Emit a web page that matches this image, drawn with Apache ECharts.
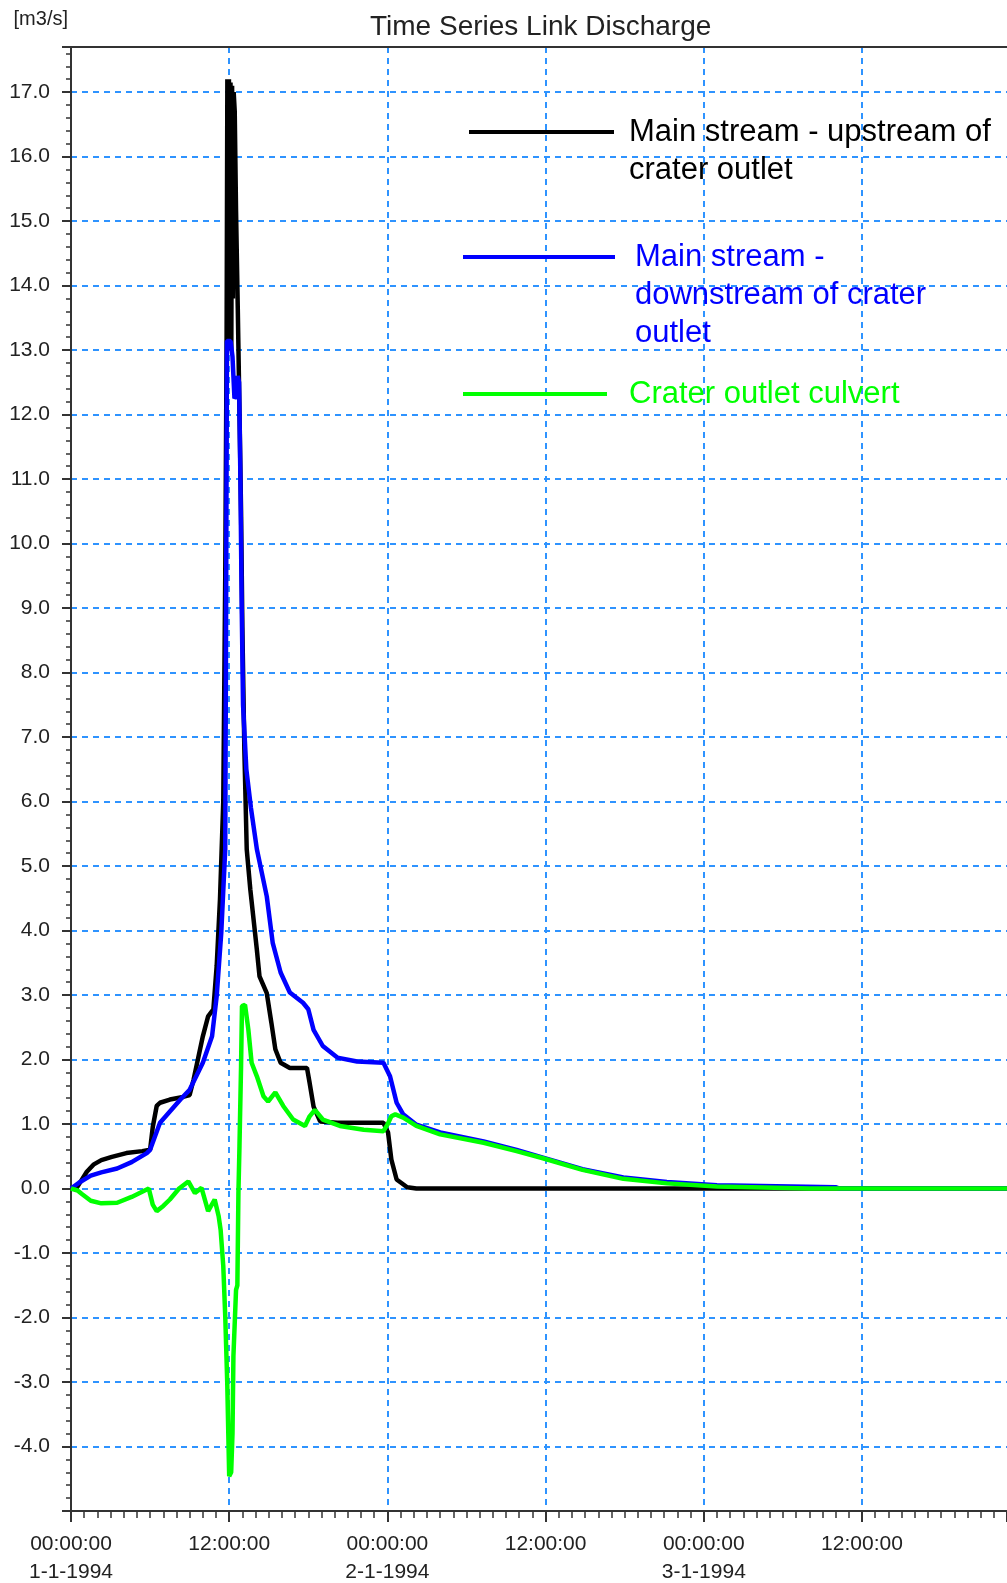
<!DOCTYPE html>
<html>
<head>
<meta charset="utf-8">
<title>Time Series Link Discharge</title>
<script src="https://cdn.jsdelivr.net/npm/echarts@6/dist/echarts.min.js"></script>
<style>
  html, body { margin: 0; padding: 0; background: #fff; }
  #chart { width: 1007px; height: 1583px; }
</style>
</head>
<body>
<div id="chart"></div>
<script>
// hours since 1-1-1994 00:00 and discharge in m3/s
const upstreamT = [0, 0.4, 0.8, 1.2, 1.7, 2.3, 3.1, 4.2, 5.4, 6.0, 6.2, 6.5, 6.75, 7.5, 8.5, 9.0, 9.3, 10.0, 10.4, 10.8, 11.05, 11.3, 11.55, 11.7, 11.8, 11.86, 11.92, 11.98, 12.04, 12.1, 12.16, 12.22, 12.28, 12.34, 12.42, 12.52, 12.65, 12.8, 12.9, 13.0, 13.15, 13.33, 13.6, 14.1, 14.3, 14.85, 15.2, 15.5, 15.9, 16.6, 17.9, 18.1, 18.4, 18.9, 20.2, 23.7, 24.05, 24.3, 24.7, 25.5, 26.2, 71];
const upstreamQ = [0, 0, 0.13, 0.26, 0.37, 0.44, 0.49, 0.55, 0.58, 0.6, 0.95, 1.28, 1.33, 1.38, 1.42, 1.45, 1.69, 2.36, 2.67, 2.78, 3.45, 4.48, 6.0, 9.5, 13.0, 17.2, 13.0, 17.2, 13.0, 17.15, 13.0, 17.1, 13.8, 17.0, 16.7, 15.15, 13.66, 11.8, 10.5, 8.7, 6.8, 5.26, 4.64, 3.7, 3.29, 3.03, 2.57, 2.16, 1.95, 1.87, 1.87, 1.64, 1.27, 1.04, 1.02, 1.02, 0.87, 0.45, 0.14, 0.02, 0, 0];

const downstreamT = [0, 0.6, 1.5, 2.3, 3.5, 4.6, 5.75, 6.0, 6.75, 8.3, 9.0, 10.0, 10.7, 11.05, 11.4, 11.7, 11.75, 11.83, 12.1, 12.25, 12.4, 12.55, 12.65, 12.75, 12.85, 12.95, 13.05, 13.3, 13.65, 14.1, 14.85, 15.3, 15.9, 16.6, 17.6, 18.0, 18.4, 19.1, 20.2, 21.7, 23.7, 24.2, 24.7, 25.2, 26.2, 28.0, 31.3, 33.8, 35.8, 38.8, 41.9, 45.2, 49, 58, 58.3, 71];
const downstreamQ = [0, 0.09, 0.2, 0.25, 0.31, 0.41, 0.55, 0.6, 1.02, 1.38, 1.53, 1.95, 2.36, 2.98, 3.97, 5.26, 8.0, 13.14, 13.14, 12.9, 12.25, 12.3, 12.6, 12.5, 11.0, 9.0, 7.5, 6.5, 5.9, 5.26, 4.53, 3.81, 3.35, 3.04, 2.88, 2.78, 2.46, 2.21, 2.03, 1.97, 1.95, 1.74, 1.33, 1.15, 0.99, 0.87, 0.73, 0.6, 0.48, 0.3, 0.17, 0.1, 0.05, 0.02, 0, 0];

const culvertT = [0, 0.5, 0.8, 1.5, 2.3, 3.5, 4.6, 5.4, 5.9, 6.2, 6.5, 7.0, 7.5, 8.2, 8.9, 9.4, 9.9, 10.4, 10.9, 11.2, 11.35, 11.55, 11.7, 11.85, 12.0, 12.15, 12.25, 12.32, 12.45, 12.52, 12.62, 12.7, 12.78, 12.9, 12.97, 13.2, 13.45, 13.7, 14.1, 14.6, 14.95, 15.5, 16.1, 16.85, 17.75, 18.1, 18.5, 19.1, 20.4, 22.2, 23.7, 24.0, 24.3, 24.6, 25.2, 26.2, 28.0, 31.3, 33.8, 35.8, 38.8, 41.9, 45.2, 49, 56, 71];
const culvertQ = [0, -0.03, -0.08, -0.19, -0.23, -0.22, -0.13, -0.05, 0.0, -0.25, -0.35, -0.27, -0.17, 0.0, 0.11, -0.07, 0.01, -0.35, -0.17, -0.43, -0.64, -1.2, -1.98, -3.0, -4.46, -4.4, -3.8, -2.6, -2.6, -1.57, -1.5, -0.07, 0.66, 1.9, 2.83, 2.85, 2.47, 1.95, 1.74, 1.43, 1.35, 1.49, 1.28, 1.07, 0.97, 1.12, 1.22, 1.07, 0.97, 0.91, 0.89, 0.99, 1.12, 1.15, 1.1, 0.97, 0.84, 0.71, 0.58, 0.47, 0.29, 0.15, 0.08, 0.03, 0, 0];

// labels for the 12-hourly x ticks
const xTickLabels = ['00:00:00\n1-1-1994', '12:00:00', '00:00:00\n2-1-1994', '12:00:00', '00:00:00\n3-1-1994', '12:00:00'];

const seriesNames = ['Main stream - upstream of crater outlet', 'Main stream - downstream of crater outlet', 'Crater outlet culvert'];
// leading blank lines keep the legend line level with the first text line
const legendLabels = ['\nMain stream - upstream of\ncrater outlet', '\n\nMain stream -\ndownstream of crater\noutlet', 'Crater outlet culvert'];
const seriesColors = ['#000000', '#0000ff', '#00ff00'];

const pairs = (t, q) => t.map((h, i) => [h, q[i]]);

const chart = echarts.init(document.getElementById('chart'));

const gridColor = '#2e93ff';
const axisColor = '#333';

const legendBox = (i, left, top, padLeft, width) => ({
  data: [seriesNames[i]],
  left: left,
  top: top,
  padding: 0,
  selectedMode: false,
  icon: 'rect',
  itemWidth: width,
  itemHeight: 4,
  itemStyle: { borderWidth: 0 },
  formatter: () => legendLabels[i],
  textStyle: {
    color: seriesColors[i],
    fontSize: 31,
    lineHeight: 38,
    fontFamily: 'Liberation Sans, Arial, sans-serif',
    padding: [0, 0, 0, padLeft]
  }
});

const option = {
  animation: false,
  backgroundColor: '#fff',
  textStyle: { fontFamily: 'Liberation Sans, Arial, sans-serif' },
  title: {
    text: 'Time Series Link Discharge',
    left: 370,
    top: 13,
    padding: 0,
    textStyle: { fontSize: 28, fontWeight: 'normal', color: '#222' }
  },
  legend: [
    legendBox(0, 469, 75, 10, 145),
    legendBox(1, 463, 162, 15, 152),
    legendBox(2, 463, 375, 17, 144)
  ],
  // keep the plot box fixed even though the labels reach the page edge
  grid: { left: 71, top: 47, right: 0, bottom: 72, outerBoundsMode: 'none', containLabel: false },
  xAxis: [
    {
      type: 'value',
      min: 0,
      max: 71,
      interval: 12,
      axisLine: { onZero: false, lineStyle: { color: axisColor, width: 2 } },
      axisTick: { length: 11, lineStyle: { color: axisColor, width: 2 } },
      minorTick: { show: true, splitNumber: 12, length: 7, lineStyle: { color: axisColor, width: 1.5 } },
      axisLabel: {
        margin: 19,
        fontSize: 21,
        lineHeight: 28,
        color: '#222',
        formatter: v => (v % 12 === 0 ? (xTickLabels[v / 12] || '') : '')
      },
      splitLine: { show: true, showMaxLine: false, lineStyle: { color: gridColor, type: [6, 5], width: 2 } }
    },
    {
      type: 'value',
      position: 'top',
      min: 0,
      max: 71,
      axisLine: { onZero: false, lineStyle: { color: axisColor, width: 2 } },
      axisTick: { show: false },
      axisLabel: { show: false },
      splitLine: { show: false }
    }
  ],
  yAxis: {
    type: 'value',
    min: -5,
    max: 17.7,
    interval: 1,
    name: '[m3/s]',
    nameLocation: 'end',
    nameGap: 18,
    nameTextStyle: { fontSize: 20, color: '#222', align: 'right', padding: [0, 3, 0, 0] },
    axisLine: { show: true, onZero: false, lineStyle: { color: axisColor, width: 2 } },
    axisTick: { length: 9, lineStyle: { color: axisColor, width: 2 } },
    minorTick: { show: true, splitNumber: 5, length: 5, lineStyle: { color: axisColor, width: 1.5 } },
    axisLabel: {
      margin: 21,
      fontSize: 21,
      color: '#222',
      formatter: v => (Number.isInteger(v) && v > -5 ? v.toFixed(1) : '')
    },
    splitLine: { show: true, showMaxLine: false, lineStyle: { color: gridColor, type: [6, 5], width: 2 } }
  },
  series: [
    { name: seriesNames[0], type: 'line', data: pairs(upstreamT, upstreamQ) },
    { name: seriesNames[1], type: 'line', data: pairs(downstreamT, downstreamQ) },
    { name: seriesNames[2], type: 'line', data: pairs(culvertT, culvertQ) }
  ].map((s, i) => Object.assign(s, {
    symbol: 'none',
    color: seriesColors[i],
    lineStyle: { color: seriesColors[i], width: 4.5 },
    z: 2 + i
  }))
};

chart.setOption(option);
</script>
</body>
</html>
